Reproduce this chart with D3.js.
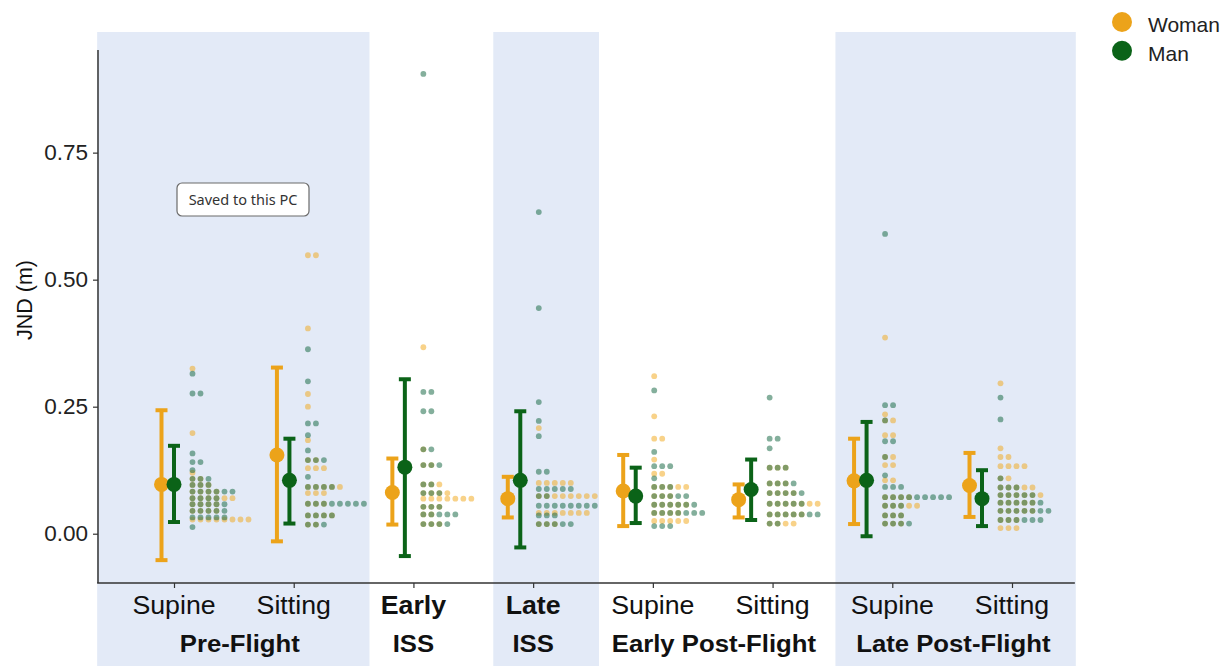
<!DOCTYPE html>
<html>
<head>
<meta charset="utf-8">
<script src="https://cdn.jsdelivr.net/npm/d3@7"></script>
<style>
  html, body { margin: 0; padding: 0; background: #ffffff; }
  svg { display: block; }
</style>
</head>
<body>
<svg id="chart" width="1231" height="666"></svg>
<script>
// ---------------- DATA ----------------
const conditionLabels = ["Supine", "Sitting", "Early", "Late", "Supine", "Sitting", "Supine", "Sitting"];
const boldCondition = [false, false, true, true, false, false, false, false];
const phaseLabels = ["Pre-Flight", "ISS", "ISS", "Early Post-Flight", "Late Post-Flight"];
const yTickValues = [0.00, 0.25, 0.50, 0.75];
const genders = ["Woman", "Man"];

// mean and error-bar limits per condition
const womanMean  = [0.097, 0.155, 0.081, 0.069, 0.084, 0.067, 0.104, 0.095];
const womanLow   = [-0.052, -0.015, 0.018, 0.032, 0.015, 0.032, 0.019, 0.033];
const womanHigh  = [0.243, 0.327, 0.148, 0.112, 0.155, 0.097, 0.187, 0.159];
const manMean    = [0.097, 0.105, 0.131, 0.105, 0.074, 0.087, 0.105, 0.069];
const manLow     = [0.023, 0.020, -0.044, -0.027, 0.021, 0.027, -0.005, 0.015];
const manHigh    = [0.173, 0.187, 0.304, 0.241, 0.130, 0.146, 0.220, 0.125];

// individual JND values, as [value, how many participants]
const womanDots = [
  [[0.325,1],[0.198,1],[0.12,1],[0.108,2],[0.096,3],[0.083,4],[0.07,6],[0.058,4],[0.045,4],[0.028,8]],
  [[0.548,2],[0.404,1],[0.275,1],[0.25,1],[0.184,1],[0.145,2],[0.129,3],[0.092,5],[0.08,3],[0.059,3],[0.036,4],[0.018,2]],
  [[0.367,1],[0.166,1],[0.135,2],[0.097,3],[0.08,4],[0.069,7],[0.053,3],[0.038,2],[0.019,3]],
  [[0.208,1],[0.1,5],[0.074,8],[0.041,7],[0.019,3]],
  [[0.31,1],[0.231,1],[0.187,2],[0.146,1],[0.118,2],[0.092,5],[0.074,3],[0.057,5],[0.041,4],[0.025,5]],
  [[0.13,3],[0.099,3],[0.08,4],[0.059,7],[0.038,5],[0.02,4]],
  [[0.386,1],[0.235,1],[0.223,2],[0.194,2],[0.151,2],[0.135,2],[0.105,2],[0.072,4],[0.055,5],[0.036,3],[0.02,3]],
  [[0.296,1],[0.168,1],[0.151,2],[0.133,4],[0.109,2],[0.091,5],[0.076,6],[0.061,5],[0.045,5],[0.027,3],[0.011,3]]
];
const manDots = [
  [[0.315,1],[0.276,2],[0.158,1],[0.141,2],[0.125,1],[0.108,3],[0.096,3],[0.083,6],[0.07,4],[0.058,5],[0.045,5],[0.032,5],[0.013,1]],
  [[0.363,1],[0.30,1],[0.217,2],[0.194,1],[0.164,1],[0.145,3],[0.112,1],[0.092,4],[0.059,8],[0.036,4],[0.018,3]],
  [[0.905,1],[0.279,2],[0.241,2],[0.166,2],[0.135,3],[0.097,2],[0.08,3],[0.053,3],[0.038,5],[0.019,4]],
  [[0.633,1],[0.444,1],[0.259,1],[0.222,1],[0.192,1],[0.122,2],[0.088,5],[0.074,2],[0.055,8],[0.036,3],[0.019,5]],
  [[0.282,1],[0.161,1],[0.133,3],[0.109,1],[0.092,3],[0.074,5],[0.057,6],[0.041,7],[0.015,3]],
  [[0.268,1],[0.187,2],[0.168,1],[0.13,3],[0.099,4],[0.08,5],[0.059,5],[0.038,7],[0.02,2]],
  [[0.59,1],[0.253,2],[0.223,1],[0.182,2],[0.151,1],[0.115,1],[0.092,3],[0.072,9],[0.055,3],[0.036,3],[0.02,4]],
  [[0.268,1],[0.225,1],[0.109,1],[0.091,3],[0.076,5],[0.061,6],[0.045,7],[0.027,6]]
];

// ---------------- LAYOUT ----------------
const svg = d3.select("#chart");
const ORANGE = "#eca31a", GREEN = "#0b6318";
const BAND = "#e3eaf7";
const AXIS = "#333333";
const FONT = "'Liberation Sans', Arial, sans-serif";

const y = d3.scaleLinear().domain([-0.097, 0.952]).range([583, 50]);
const idx = d3.range(conditionLabels.length);
// position of the plotted data (per condition index)
const xData = d3.scaleLinear().domain([0, 7]).range([174, 982]);
// position of the axis ticks and labels (per condition index)
const xLab = d3.scaleLinear().domain([0, 7]).range([174, 1012]);

// shaded phase bands (in label-index units) – layout only
const bands = [[-0.642, 1.633], [2.667, 3.55], [5.525, 7.533]];
svg.append("g").selectAll("rect").data(bands).join("rect")
  .attr("x", d => xLab(d[0])).attr("width", d => xLab(d[1]) - xLab(d[0]))
  .attr("y", 32).attr("height", 666 - 32)
  .attr("fill", BAND);

// y axis
const yAxis = d3.axisLeft(y).tickValues(yTickValues).tickFormat(d3.format(".2f")).tickSize(5).tickPadding(5);
const gy = svg.append("g").attr("transform", "translate(98,0)").call(yAxis);
gy.select(".domain").attr("d", `M0,${y(0.952)}V${y(-0.097)}`).attr("stroke", AXIS).attr("stroke-width", 1.5);
gy.selectAll(".tick line").attr("stroke", AXIS).attr("stroke-width", 1.2);
gy.selectAll(".tick text").attr("font-family", FONT).attr("font-size", 22.5).attr("fill", "#222");

// x axis line + ticks
const xAxis = d3.axisBottom(xLab).tickValues(idx).tickFormat("").tickSize(5).tickSizeOuter(0);
const gx = svg.append("g").attr("transform", `translate(0,${y(-0.097)})`).call(xAxis);
gx.select(".domain").attr("d", `M${xLab(-0.642)},0H${xLab(7.525)}`).attr("stroke", AXIS).attr("stroke-width", 1.5);
gx.selectAll(".tick line").attr("stroke", AXIS).attr("stroke-width", 1.2);

// condition labels
svg.append("g").selectAll("text").data(idx).join("text")
  .attr("transform", i => `translate(${xLab(i)},614) scale(1.07,1)`)
  .attr("text-anchor", "middle")
  .attr("font-family", FONT).attr("font-size", 25)
  .attr("font-weight", i => boldCondition[i] ? "bold" : "normal")
  .attr("fill", "#111")
  .text(i => conditionLabels[i]);

// phase labels (centre index of each phase)
const phaseCentres = [0.55, 2, 3, 4.51, 6.51];
svg.append("g").selectAll("text").data(phaseLabels).join("text")
  .attr("transform", (d, i) => `translate(${xLab(phaseCentres[i])},652) scale(1.05,1)`)
  .attr("text-anchor", "middle")
  .attr("font-family", FONT).attr("font-size", 24.5).attr("font-weight", "bold")
  .attr("fill", "#111")
  .text(d => d);

// y axis title
svg.append("text")
  .attr("transform", `translate(32,${y(0.46)}) rotate(-90)`)
  .attr("text-anchor", "middle")
  .attr("font-family", FONT).attr("font-size", 21.5).attr("fill", "#111")
  .text("JND (m)");

// dot plots
const DOT_R = 2.9, DOT_STEP = 8, DOT_OFFSET = 18.5;
function dotRows(dots) {
  const out = [];
  dots.forEach((rows, i) => rows.forEach(([v, n]) => {
    for (let k = 0; k < n; k++) out.push({ i, v, k });
  }));
  return out;
}
const gDots = svg.append("g");
gDots.append("g").selectAll("circle").data(dotRows(womanDots)).join("circle")
  .attr("cx", d => xData(d.i) + DOT_OFFSET + d.k * DOT_STEP)
  .attr("cy", d => y(d.v)).attr("r", DOT_R)
  .attr("fill", "#f2a614").attr("fill-opacity", 0.5);
gDots.append("g").selectAll("circle").data(dotRows(manDots)).join("circle")
  .attr("cx", d => xData(d.i) + DOT_OFFSET + d.k * DOT_STEP)
  .attr("cy", d => y(d.v)).attr("r", DOT_R)
  .attr("fill", "#1f6e4a").attr("fill-opacity", 0.55);

// error bars and means
function drawSummary(mean, low, high, color, dx) {
  const g = svg.append("g");
  g.selectAll("line.v").data(idx).join("line").attr("class", "v")
    .attr("x1", i => xData(i) + dx).attr("x2", i => xData(i) + dx)
    .attr("y1", i => y(high[i])).attr("y2", i => y(low[i]))
    .attr("stroke", color).attr("stroke-width", 4);
  [high, low].forEach(arr => {
    g.append("g").selectAll("line").data(idx).join("line")
      .attr("x1", i => xData(i) + dx - 6).attr("x2", i => xData(i) + dx + 6)
      .attr("y1", i => y(arr[i])).attr("y2", i => y(arr[i]))
      .attr("stroke", color).attr("stroke-width", 4);
  });
  g.append("g").selectAll("circle").data(idx).join("circle")
    .attr("cx", i => xData(i) + dx).attr("cy", i => y(mean[i])).attr("r", 7.5)
    .attr("fill", color);
}
drawSummary(womanMean, womanLow, womanHigh, ORANGE, -12.5);
drawSummary(manMean, manLow, manHigh, GREEN, 0);

// legend
const legendColors = [ORANGE, GREEN];
const lg = svg.append("g").selectAll("g").data(genders).join("g")
  .attr("transform", (d, i) => `translate(1122,${22 + i * 28.7})`);
lg.append("circle").attr("r", 10).attr("fill", (d, i) => legendColors[i]);
lg.append("text").attr("x", 26).attr("y", 10)
  .attr("font-family", FONT).attr("font-size", 21).attr("fill", "#222")
  .text(d => d);

// "Saved to this PC" notification box
const note = svg.append("g").attr("transform", "translate(177,183)");
note.append("rect").attr("width", 132).attr("height", 33).attr("rx", 5)
  .attr("fill", "#ffffff").attr("stroke", "#6b6b6b").attr("stroke-width", 1.2);
note.append("text").attr("x", 66).attr("y", 22).attr("text-anchor", "middle")
  .attr("font-family", "'Noto Sans', sans-serif").attr("font-size", 14.5).attr("fill", "#333")
  .text("Saved to this PC");
</script>
</body>
</html>
